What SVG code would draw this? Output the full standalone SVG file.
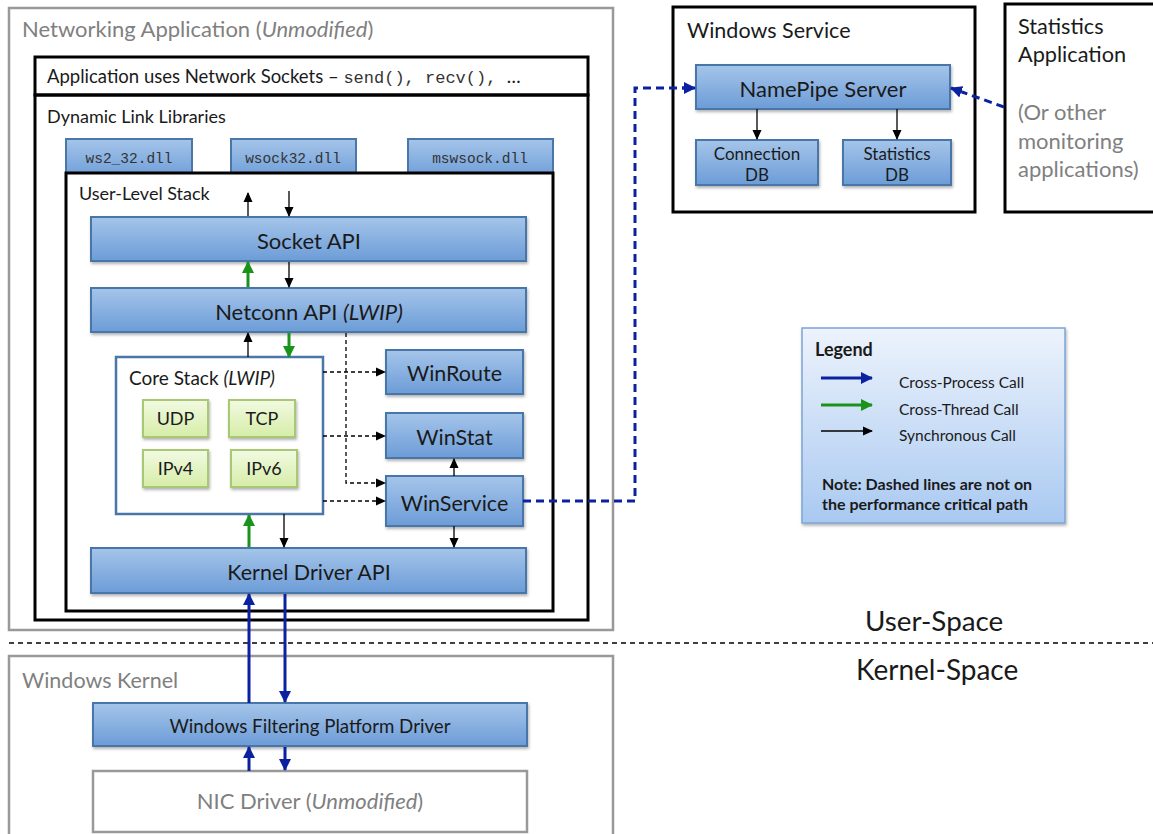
<svg xmlns="http://www.w3.org/2000/svg" width="1153" height="834" viewBox="0 0 1153 834">
<defs>
<linearGradient id="gBlue" x1="0" y1="0" x2="0" y2="1"><stop offset="0" stop-color="#a5c5ea"/><stop offset="1" stop-color="#6c9cd7"/></linearGradient>
<linearGradient id="gGreen" x1="0" y1="0" x2="0" y2="1"><stop offset="0" stop-color="#f2fae2"/><stop offset="1" stop-color="#d6eda8"/></linearGradient>
<linearGradient id="gLegend" x1="0" y1="0" x2="0" y2="1"><stop offset="0" stop-color="#edf3fc"/><stop offset="1" stop-color="#a9c9f1"/></linearGradient>
<filter id="sh" x="-10%" y="-10%" width="130%" height="140%"><feDropShadow dx="1" dy="2" stdDeviation="1.5" flood-color="#000" flood-opacity="0.3"/></filter>
<marker id="mk" markerUnits="userSpaceOnUse" markerWidth="10" markerHeight="10" refX="9" refY="5" orient="auto"><path d="M0,0.5 L10,5 L0,9.5 z" fill="#000"/></marker>
<marker id="mg" markerUnits="userSpaceOnUse" markerWidth="12" markerHeight="12" refX="11" refY="6" orient="auto"><path d="M0,0 L12,6 L0,12 z" fill="#1a931a"/></marker>
<marker id="mb" markerUnits="userSpaceOnUse" markerWidth="12" markerHeight="12" refX="11" refY="6" orient="auto"><path d="M0,0 L12,6 L0,12 z" fill="#0b22a0"/></marker>
</defs>
<style>
text{font-family:Lato,"Liberation Sans",sans-serif;fill:#1a1a1a}
.mono{font-family:"Liberation Mono",monospace;fill:#333}
.gray{fill:#808080}
.blue{fill:url(#gBlue);stroke:#4a76a8;stroke-width:2}
.grn{fill:url(#gGreen);stroke:#a9c873;stroke-width:2}
.blk{fill:none;stroke:#000;stroke-width:3}
.gry{fill:#fff;stroke:#999;stroke-width:2.5}
.ak{stroke:#000;stroke-width:1.3;fill:none;marker-end:url(#mk)}
.ad{stroke:#000;stroke-width:1.3;fill:none;stroke-dasharray:4 3}
.ag{stroke:#1a931a;stroke-width:3;fill:none;marker-end:url(#mg)}
.ab{stroke:#0b22a0;stroke-width:3;fill:none;marker-end:url(#mb)}
.abd{stroke:#0b22a0;stroke-width:3;fill:none;stroke-dasharray:8 5}
.c{text-anchor:middle}
</style>
<rect width="1153" height="834" fill="#fff"/>

<g id="networking-app">
<rect x="9" y="8" width="604" height="622" class="gry"/>
<text x="22" y="37" font-size="22" class="gray">Networking Application (<tspan font-style="italic">Unmodified</tspan>)</text>
</g>
<g id="app-sockets">
<rect x="35" y="57" width="553" height="38" class="blk"/>
<text x="47" y="83" font-size="18.5">Application uses Network Sockets – <tspan class="mono" font-size="17">send(), recv(), </tspan>…</text>
</g>
<g id="dll">
<rect x="35" y="95" width="553" height="525" class="blk"/>
<text x="47" y="123" font-size="18">Dynamic Link Libraries</text>
</g>
<g id="ws2_32"><rect x="66" y="139" width="126" height="40" class="blue"/><text x="129" y="163" font-size="14.5" class="c mono">ws2_32.dll</text></g>
<g id="wsock32"><rect x="231" y="139" width="125" height="40" class="blue"/><text x="293" y="163" font-size="14.5" class="c mono">wsock32.dll</text></g>
<g id="mswsock"><rect x="408" y="139" width="145" height="40" class="blue"/><text x="480" y="163" font-size="14.5" class="c mono">mswsock.dll</text></g>

<g id="user-level-stack">
<rect x="66" y="173" width="487" height="438" fill="#fff" stroke="#000" stroke-width="3"/>
<text x="79" y="200" font-size="18">User-Level Stack</text>
</g>
<g id="socket-api"><rect x="91" y="217" width="435" height="44" class="blue" filter="url(#sh)"/><text x="309" y="249" font-size="22" class="c">Socket API</text></g>
<g id="netconn-api"><rect x="91" y="288" width="435" height="44" class="blue" filter="url(#sh)"/><text x="309" y="320" font-size="22" class="c">Netconn API <tspan font-style="italic">(LWIP)</tspan></text></g>
<g id="core-stack">
<rect x="116" y="357" width="207" height="157" fill="#fff" stroke="#4a76a8" stroke-width="2.5"/>
<text x="129" y="385" font-size="19">Core Stack <tspan font-style="italic">(LWIP)</tspan></text>
</g>
<g id="udp"><rect x="143" y="400" width="65" height="37" class="grn" filter="url(#sh)"/><text x="175.5" y="425" font-size="18" class="c">UDP</text></g>
<g id="tcp"><rect x="229" y="400" width="66" height="37" class="grn" filter="url(#sh)"/><text x="262" y="425" font-size="18" class="c">TCP</text></g>
<g id="ipv4"><rect x="143" y="450" width="65" height="37" class="grn" filter="url(#sh)"/><text x="175.5" y="475" font-size="18" class="c">IPv4</text></g>
<g id="ipv6"><rect x="231" y="450" width="66" height="37" class="grn" filter="url(#sh)"/><text x="264" y="475" font-size="18" class="c">IPv6</text></g>
<g id="winroute"><rect x="386" y="350" width="137" height="44" class="blue" filter="url(#sh)"/><text x="454.5" y="381" font-size="21.5" class="c">WinRoute</text></g>
<g id="winstat"><rect x="386" y="413" width="137" height="45" class="blue" filter="url(#sh)"/><text x="454.5" y="445" font-size="21.5" class="c">WinStat</text></g>
<g id="winservice"><rect x="386" y="476" width="137" height="50" class="blue" filter="url(#sh)"/><text x="454.5" y="511" font-size="21.5" class="c">WinService</text></g>
<g id="kernel-driver-api"><rect x="91" y="548" width="435" height="45" class="blue" filter="url(#sh)"/><text x="309" y="580" font-size="21.5" class="c">Kernel Driver API</text></g>

<g id="windows-kernel">
<rect x="9" y="656" width="604" height="190" class="gry"/>
<text x="22" y="688" font-size="21.5" class="gray">Windows Kernel</text>
</g>
<g id="wfp-driver"><rect x="93" y="703" width="434" height="43" class="blue" filter="url(#sh)"/><text x="310" y="733" font-size="18.7" class="c">Windows Filtering Platform Driver</text></g>
<g id="nic-driver"><rect x="93" y="771" width="434" height="61" class="gry"/><text x="310" y="809" font-size="22" class="c gray">NIC Driver (<tspan font-style="italic">Unmodified</tspan>)</text></g>

<g id="windows-service">
<rect x="673" y="7" width="302" height="205" class="blk" fill="#fff"/>
<text x="687" y="38" font-size="21.5">Windows Service</text>
</g>
<g id="namepipe-server"><rect x="696" y="65" width="254" height="44" class="blue" filter="url(#sh)"/><text x="823" y="97" font-size="22" class="c">NamePipe Server</text></g>
<g id="connection-db"><rect x="696" y="140" width="122" height="45" class="blue" filter="url(#sh)"/><text x="757" y="160" font-size="17" class="c">Connection</text><text x="757" y="181" font-size="17" class="c">DB</text></g>
<g id="statistics-db"><rect x="843" y="140" width="108" height="45" class="blue" filter="url(#sh)"/><text x="897" y="160" font-size="17" class="c">Statistics</text><text x="897" y="181" font-size="17" class="c">DB</text></g>
<g id="statistics-app">
<rect x="1005" y="4" width="160" height="208" class="blk" fill="#fff"/>
<text x="1018" y="34" font-size="21.7">Statistics</text>
<text x="1018" y="62" font-size="21.7">Application</text>
<text x="1018" y="120" font-size="22" class="gray">(Or other</text>
<text x="1018" y="149" font-size="22" class="gray">monitoring</text>
<text x="1018" y="177" font-size="22" class="gray">applications)</text>
</g>

<g id="boundary">
<line x1="9" y1="643" x2="1153" y2="643" stroke="#000" stroke-width="1.3" stroke-dasharray="5 4"/>
<text x="865" y="631" font-size="27.8">User-Space</text>
<text x="856" y="680" font-size="28">Kernel-Space</text>
</g>

<g id="legend">
<rect x="802" y="328" width="263" height="195" fill="url(#gLegend)" stroke="#7ca4d6" stroke-width="1.5" filter="url(#sh)"/>
<text x="815" y="356" font-size="18" font-weight="bold">Legend</text>
<line x1="821" y1="378" x2="872" y2="378" class="ab"/>
<line x1="821" y1="405" x2="872" y2="405" class="ag"/>
<line x1="821" y1="431" x2="872" y2="431" class="ak"/>
<text x="899" y="388" font-size="15.5">Cross-Process Call</text>
<text x="899" y="415" font-size="15.5">Cross-Thread Call</text>
<text x="899" y="441" font-size="15.5">Synchronous Call</text>
<text x="822" y="490" font-size="16" font-weight="bold">Note: Dashed lines are not on</text>
<text x="822" y="510" font-size="16" font-weight="bold">the performance critical path</text>
</g>

<g id="connectors">
<line x1="248" y1="216" x2="248" y2="193" class="ak"/>
<line x1="289" y1="191" x2="289" y2="216" class="ak"/>
<line x1="248" y1="287" x2="248" y2="262" class="ag"/>
<line x1="289" y1="262" x2="289" y2="287" class="ak"/>
<line x1="248" y1="357" x2="248" y2="333" class="ak"/>
<line x1="289" y1="333" x2="289" y2="357" class="ag"/>
<line x1="249" y1="547" x2="249" y2="515" class="ag"/>
<line x1="284" y1="514" x2="284" y2="547" class="ak"/>
<line x1="454" y1="476" x2="454" y2="459" class="ak"/>
<line x1="454" y1="526" x2="454" y2="547" class="ak"/>
<path d="M323,372 H385" class="ad" marker-end="url(#mk)"/>
<path d="M323,436 H385" class="ad" marker-end="url(#mk)"/>
<path d="M323,501 H385" class="ad" marker-end="url(#mk)"/>
<path d="M346,333 V483 H385" class="ad" marker-end="url(#mk)"/>
<line x1="249" y1="703" x2="249" y2="594" class="ab"/>
<line x1="285" y1="594" x2="285" y2="702" class="ab"/>
<line x1="249" y1="771" x2="249" y2="747" class="ab"/>
<line x1="285" y1="747" x2="285" y2="770" class="ab"/>
<line x1="757" y1="109" x2="757" y2="139" class="ak"/>
<line x1="897" y1="109" x2="897" y2="139" class="ak"/>
<path d="M523,501 H635 V88 H684" class="abd"/>
<line x1="682" y1="88" x2="695" y2="88" class="ab"/>
<path d="M1004,107 L962,92" class="abd"/>
<line x1="962" y1="92" x2="951" y2="88" class="ab"/>
</g>
</svg>
